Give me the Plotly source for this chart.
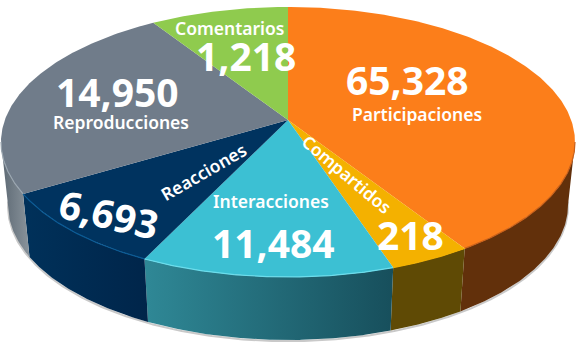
import numpy as np
import plotly.graph_objects as go

# Slices, clockwise from 12 o'clock
categories = ["Participaciones", "Compartidos", "Interacciones", "Reacciones", "Reproducciones", "Comentarios"]
values_text = ["65,328", "218", "11,484", "6,693", "14,950", "1,218"]
# Sweep of each slice as drawn in the picture (degrees; the picture is not to scale with the values)
drawn_sweep = [142, 16.5, 51.5, 37.4, 84.6, 28]

top_colors = ["#FC7E1A", "#F4B100", "#3CC0D3", "#00335F", "#707C8A", "#8FCB4E"]
rim_colors = ["#C9601A", "#F4B100", "#6BDDEC", "#0A5A94", "#9AA6B0", "#8FCB4E"]
side_left = ["#62300B", "#5F4A05", "#2F8896", "#00315A", "#5C6873", "#8FCB4E"]
side_right = ["#62300B", "#5F4A05", "#174F5C", "#00254A", "#8A949C", "#8FCB4E"]

W, H = 576, 351
APEX = (288, 120)
TOP = dict(cx=288, cy=142, rx=287, ry=135)
BOT = dict(cx=288, cy=205, rx=280, ry=135)


def arc(e, t0, t1):
    t = np.radians(np.linspace(t0, t1, max(int(abs(t1 - t0) * 2), 2)))
    return e["cx"] + e["rx"] * np.sin(t), e["cy"] - e["ry"] * np.cos(t)


fig = go.Figure()
edges = np.concatenate([[0], np.cumsum(drawn_sweep)])

# soft outline below the disc
bx, by = arc(BOT, 88, 272)
fig.add_trace(go.Scatter(x=bx, y=by + 1.2, mode="lines", line=dict(color="#C9C9C9", width=2),
                         hoverinfo="skip", showlegend=False))

# side wall
for i, name in enumerate(categories):
    t0, t1 = max(edges[i], 90), min(edges[i + 1], 270)
    if t1 <= t0:
        continue
    tx, ty = arc(TOP, t0, t1)
    lx, ly = arc(BOT, t1, t0)
    fig.add_trace(go.Scatter(
        x=np.r_[tx, lx, tx[0]], y=np.r_[ty, ly, ty[0]], mode="lines", fill="toself",
        line=dict(width=0),
        fillgradient=dict(type="horizontal",
                          colorscale=[[0, side_left[i]], [1, side_right[i]]]),
        hoverinfo="skip", showlegend=False, name=name))

# top face
for i, name in enumerate(categories):
    tx, ty = arc(TOP, edges[i], edges[i + 1])
    fig.add_trace(go.Scatter(
        x=np.r_[APEX[0], tx, APEX[0]], y=np.r_[APEX[1], ty, APEX[1]], mode="lines",
        fill="toself", fillcolor=top_colors[i], line=dict(width=0),
        hoverinfo="skip", showlegend=False, name=name))

# front rim highlight
for i, name in enumerate(categories):
    t0, t1 = max(edges[i], 90), min(edges[i + 1], 270)
    if t1 <= t0:
        continue
    tx, ty = arc(TOP, t0, t1)
    fig.add_trace(go.Scatter(x=tx, y=ty, mode="lines", line=dict(color=rim_colors[i], width=1.2),
                             hoverinfo="skip", showlegend=False))

FONT = "Noto Sans"


def label(text, x, y, size, angle=0, weight=700):
    fig.add_annotation(x=x, y=y, xref="x", yref="y", text=text, showarrow=False, textangle=angle,
                       font=dict(family=FONT, size=size, color="white", weight=weight),
                       xanchor="center", yanchor="middle")


label(values_text[0], 407, 79, 39)
label(categories[0], 417, 114, 17.5, weight=600)
label(values_text[4], 117, 91, 39)
label(categories[4], 121, 122, 17.5, weight=600)
label(categories[5], 229, 28, 17.5, weight=600)
label(values_text[5], 246, 55, 39)
label(categories[2], 271, 201, 17.5, weight=600)
label(values_text[2], 273, 242, 39)
label(values_text[1], 410, 234, 39)
label(values_text[3], 109, 213, 39, angle=13)
label(categories[3], 203, 172, 17.5, angle=-30, weight=600)
label(categories[1], 347, 174, 17.5, angle=40, weight=600)

fig.update_layout(
    width=W, height=H, margin=dict(l=0, r=0, t=0, b=0),
    paper_bgcolor="white", plot_bgcolor="white", showlegend=False,
    xaxis=dict(range=[0, W], visible=False, fixedrange=True),
    yaxis=dict(range=[H, 0], visible=False, fixedrange=True),
)
fig.write_html("out.html", config={"displayModeBar": False},
               post_script="document.body.style.margin='0';document.body.style.overflow='hidden';")
